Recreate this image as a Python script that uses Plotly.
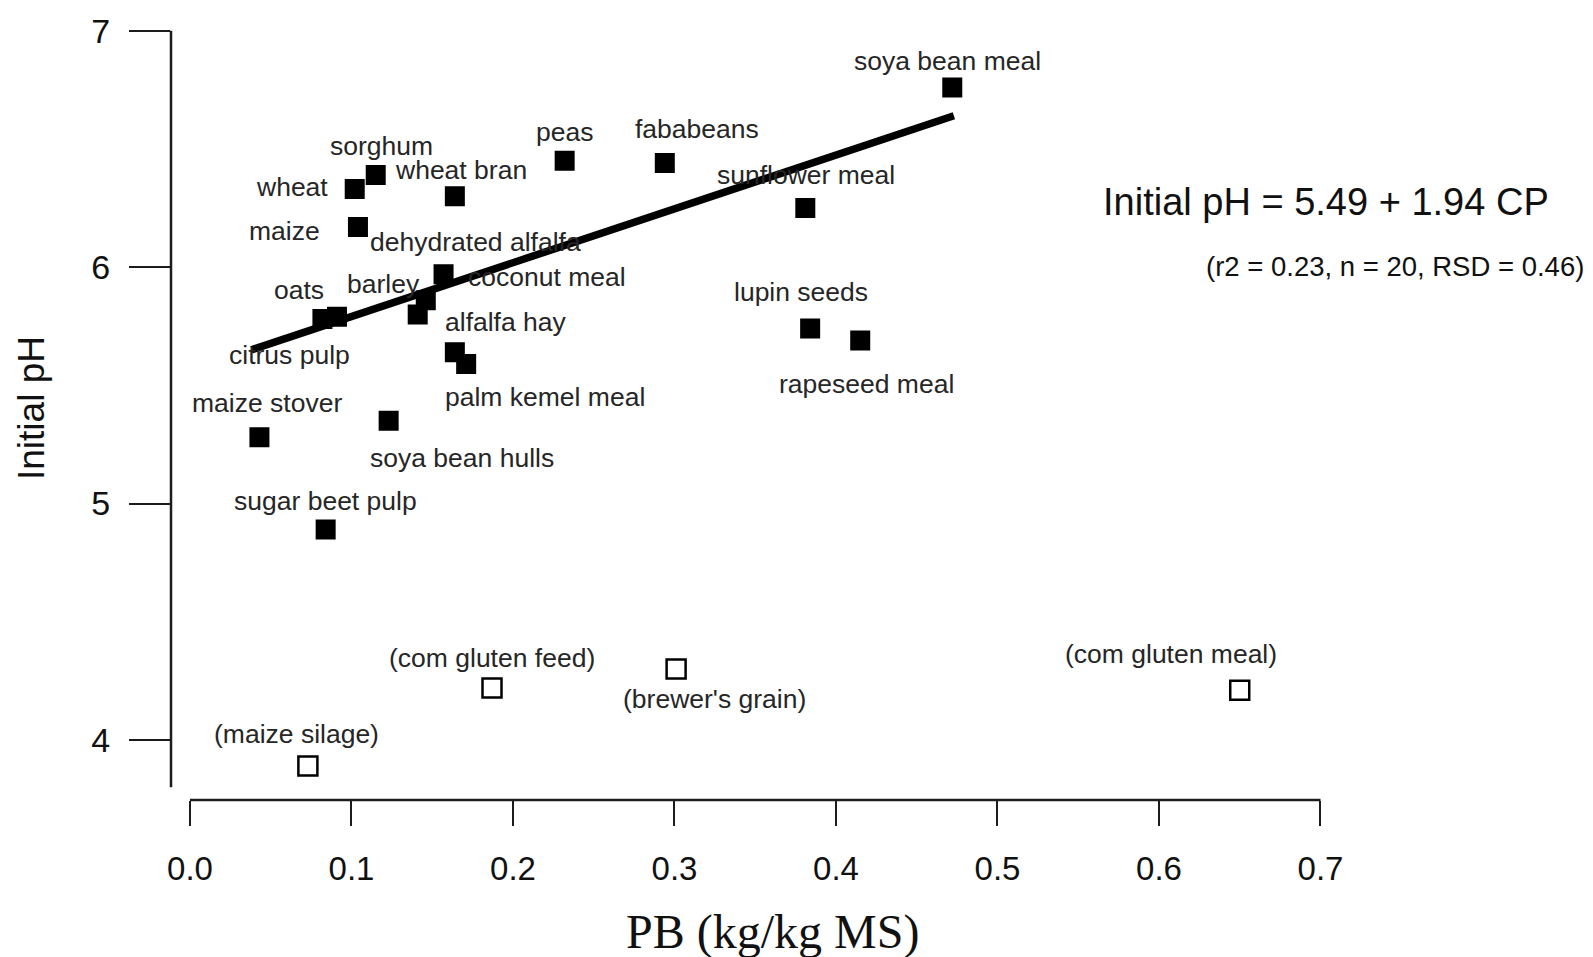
import plotly.graph_objects as go

# ---- data ----
filled_names = ["soya bean meal", "peas", "fababeans", "sunflower meal", "sorghum",
                "wheat", "wheat bran", "maize", "dehydrated alfalfa", "coconut meal",
                "barley", "oats", "citrus pulp", "alfalfa hay", "palm kemel meal",
                "lupin seeds", "rapeseed meal", "maize stover", "soya bean hulls",
                "sugar beet pulp"]
filled_cp = [0.472, 0.232, 0.294, 0.381, 0.115, 0.102, 0.164, 0.104, 0.157, 0.146,
             0.141, 0.091, 0.082, 0.164, 0.171, 0.384, 0.415, 0.043, 0.123, 0.084]
filled_ph = [6.76, 6.45, 6.44, 6.25, 6.39, 6.33, 6.30, 6.17, 5.97, 5.86,
             5.80, 5.79, 5.78, 5.64, 5.59, 5.74, 5.69, 5.28, 5.35, 4.89]

open_names = ["(maize silage)", "(com gluten feed)", "(brewer's grain)", "(com gluten meal)"]
open_cp = [0.073, 0.187, 0.301, 0.650]
open_ph = [3.89, 4.22, 4.30, 4.21]

fit_cp = [0.038, 0.473]
fit_ph = [5.65, 6.64]

x_ticks = [0.0, 0.1, 0.2, 0.3, 0.4, 0.5, 0.6, 0.7]
x_tick_labels = ["0.0", "0.1", "0.2", "0.3", "0.4", "0.5", "0.6", "0.7"]
y_ticks = [4, 5, 6, 7]
y_tick_labels = ["4", "5", "6", "7"]

# label offsets from each point, in pixels (right, down)
label_offsets = {
    "soya bean meal": (-5, -26), "peas": (0, -29), "fababeans": (32, -34),
    "sunflower meal": (1, -33), "sorghum": (6, -29), "wheat": (-63, -2),
    "wheat bran": (6, -26), "maize": (-73, 4), "dehydrated alfalfa": (32, -32),
    "coconut meal": (121, -23), "barley": (-34, -30), "oats": (-38, -27),
    "citrus pulp": (-33, 36), "alfalfa hay": (51, -30), "palm kemel meal": (79, 33),
    "lupin seeds": (-9, -37), "rapeseed meal": (6, 44), "maize stover": (8, -34),
    "soya bean hulls": (73, 37), "sugar beet pulp": (0, -29),
    "(maize silage)": (-11, -32), "(com gluten feed)": (0, -30),
    "(brewer's grain)": (38, 30), "(com gluten meal)": (-69, -36),
}

W, H = 1593, 957
ML, MR, MT, MB = 171, 252, 20, 157
PW, PH = W - ML - MR, H - MT - MB
X_RANGE = [-0.01176, 0.7127]
Y_RANGE = [3.7458, 7.0453]

def px_x(p):
    return (p - ML) / PW

def px_y(p):
    return (H - MB - p) / PH

INK = "#1c1c1c"
SANS = "Liberation Sans, Arial, Helvetica, sans-serif"

fig = go.Figure()

fig.add_trace(go.Scatter(
    x=fit_cp, y=fit_ph, mode="lines",
    line=dict(color="#000000", width=7.5),
    hoverinfo="skip", showlegend=False))

fig.add_trace(go.Scatter(
    x=filled_cp, y=filled_ph, mode="markers", text=filled_names,
    marker=dict(symbol="square", size=18, color="#000000",
                line=dict(color="#000000", width=2)),
    showlegend=False))

fig.add_trace(go.Scatter(
    x=open_cp, y=open_ph, mode="markers", text=open_names,
    marker=dict(symbol="square-open", size=19, color="#000000",
                line=dict(color="#000000", width=2.5)),
    showlegend=False))

annotations = []
for n, xv, yv in list(zip(filled_names, filled_cp, filled_ph)) + list(zip(open_names, open_cp, open_ph)):
    dx, dy = label_offsets[n]
    annotations.append(dict(
        x=xv, y=yv, xref="x", yref="y", text=n, showarrow=False,
        xanchor="center", yanchor="middle", xshift=dx, yshift=-dy,
        font=dict(family=SANS, size=26.5, color="#262626")))

annotations += [
    dict(x=px_x(1326), y=px_y(202), xref="paper", yref="paper",
         text="Initial pH = 5.49 + 1.94 CP", showarrow=False,
         xanchor="center", yanchor="middle",
         font=dict(family=SANS, size=38, color="#111111")),
    dict(x=px_x(1586), y=px_y(266), xref="paper", yref="paper",
         text="(r2 = 0.23, n = 20, RSD = 0.46)", showarrow=False,
         xanchor="right", yanchor="middle",
         font=dict(family=SANS, size=27.5, color="#111111")),
    dict(x=px_x(31), y=px_y(408), xref="paper", yref="paper",
         text="Initial pH", showarrow=False, textangle=-90,
         xanchor="center", yanchor="middle",
         font=dict(family=SANS, size=37, color="#111111")),
    dict(x=px_x(772), y=px_y(932), xref="paper", yref="paper",
         text="PB (kg/kg MS)", showarrow=False,
         xanchor="center", yanchor="middle",
         font=dict(family="Liberation Serif, Times New Roman, serif", size=48, color="#111111")),
]

shapes = [
    dict(type="line", xref="paper", yref="y", x0=0, x1=0, y0=3.80, y1=7.0,
         line=dict(color=INK, width=2.5)),
    dict(type="line", xref="x", yref="paper", x0=0.0, x1=0.7, y0=0, y1=0,
         line=dict(color=INK, width=2.5)),
]

fig.update_layout(
    width=W, height=H,
    margin=dict(l=ML, r=MR, t=MT, b=MB, pad=0),
    paper_bgcolor="white", plot_bgcolor="white",
    annotations=annotations, shapes=shapes,
    showlegend=False,
)
fig.update_xaxes(
    range=X_RANGE, showgrid=False, zeroline=False, showline=False,
    tickvals=x_ticks, ticktext=x_tick_labels,
    ticks="outside", ticklen=25, tickwidth=2, tickcolor=INK,
    ticklabelstandoff=14,
    tickfont=dict(family=SANS, size=33, color="#111111"))
fig.update_yaxes(
    range=Y_RANGE, showgrid=False, zeroline=False, showline=False,
    tickvals=y_ticks, ticktext=y_tick_labels,
    ticks="outside", ticklen=41, tickwidth=2, tickcolor=INK,
    ticklabelstandoff=12,
    tickfont=dict(family=SANS, size=34, color="#111111"))

fig.write_html("out.html")
